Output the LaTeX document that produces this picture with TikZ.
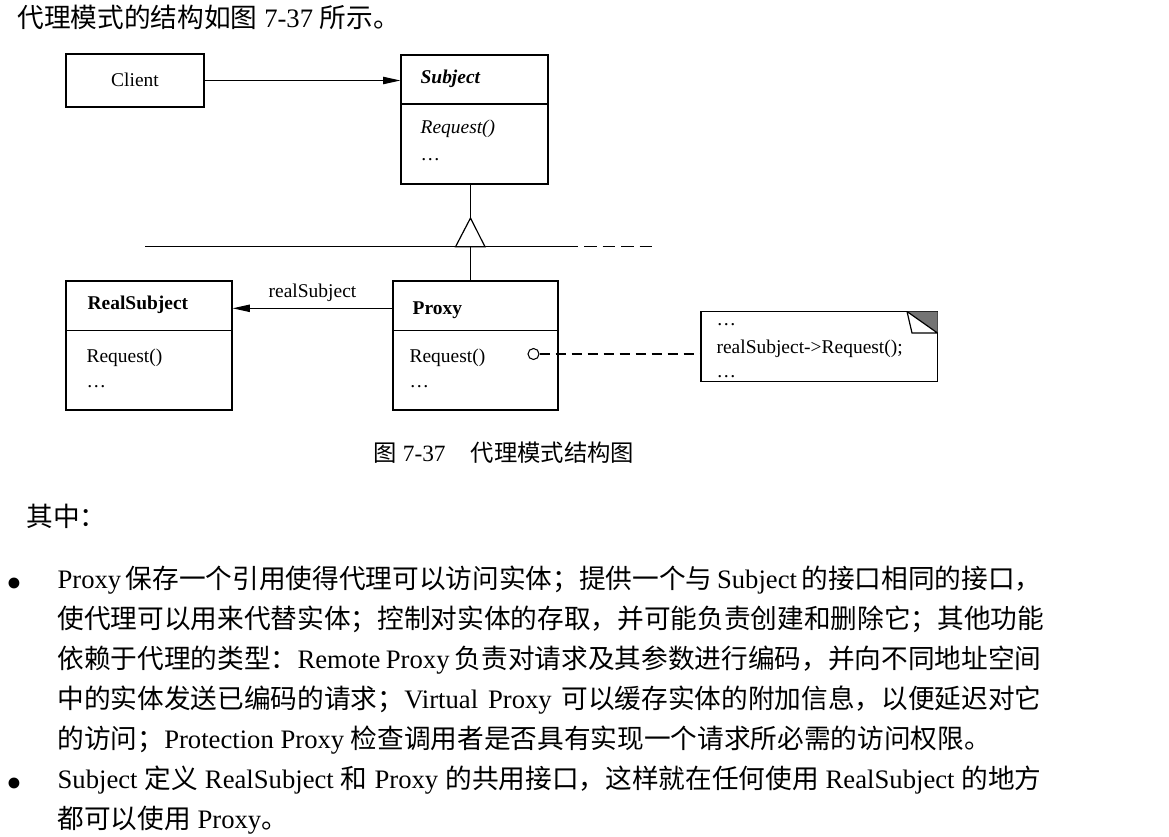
\documentclass[tikz,border=0pt]{standalone}
\usepackage{fontspec}
\setmainfont{Liberation Serif}
\newfontfamily\cjk{Noto Sans CJK SC}
\usetikzlibrary{arrows.meta,fit}

\begin{document}
\begin{tikzpicture}[x=0.75pt,y=-0.75pt,line width=0.9pt,
  classbox/.style={draw,inner sep=0pt},
  uml/.style={anchor=base west,inner sep=0pt,font=\fontsize{14.6pt}{17pt}\selectfont},
  body/.style={anchor=base west,inner sep=0pt,font=\fontsize{20pt}{24pt}\selectfont},
  tip/.style={-{Triangle[length=13pt,width=5.5pt]}}]
  \useasboundingbox (0,0) rectangle (1169,836);

  \node[body] (intro) at (17,27.5) {{\cjk 代理模式的结构如图} 7-37 {\cjk 所示。}};

  \node[classbox,fit={(66,54) (204,107)}] (client) {};
  \node[classbox,fit={(401,55) (548,184)}] (subject) {};
  \node[classbox,fit={(66,281) (232,410)}] (realsub) {};
  \node[classbox,fit={(393,281) (558,410)}] (proxy) {};
  \node[draw,inner sep=0pt,fit={(701,311.5) (937.5,381.5)}] (note) {};
  \draw (subject.west |- 0,104) -- (subject.east |- 0,104);
  \draw (realsub.west |- 0,330.5) -- (realsub.east |- 0,330.5);
  \draw (proxy.west |- 0,330.5) -- (proxy.east |- 0,330.5);
  \fill[black!55] (907,311.5) -- (937.5,311.5) -- (937.5,333) -- cycle;
  \draw (907,311.5) -- (912,333) -- (937.5,333) (907,311.5) -- (937.5,333);

  \node[uml,anchor=base] (clientname) at (135,86) {Client};
  \node[uml,font=\fontsize{14.6pt}{17pt}\selectfont\bfseries\itshape] (subjname) at (420,83) {Subject};
  \node[uml,font=\fontsize{14.6pt}{17pt}\selectfont\itshape] (subjop) at (420,133) {Request()};
  \node[uml] (subjdots) at (420,160) {…};
  \node[uml,font=\fontsize{14.6pt}{17pt}\selectfont\bfseries] (realname) at (87,309) {RealSubject};
  \node[uml] (realop) at (86,362) {Request()};
  \node[uml] (realdots) at (86,387) {…};
  \node[uml,font=\fontsize{14.6pt}{17pt}\selectfont\bfseries] (proxyname) at (412,314) {Proxy};
  \node[uml] (proxyop) at (409,362) {Request()};
  \node[uml] (proxydots) at (409,387) {…};
  \node[uml] (notedots1) at (716,325) {…};
  \node[uml] (notecall) at (716,353) {realSubject->Request();};
  \node[uml] (notedots2) at (716,377.5) {…};

  \coordinate (apex) at (470.5,218);
  \draw[tip] (client.east) -- (client.east -| subject.west);
  \draw[tip] (proxy.west |- 0,308.3) -- (realsub.east |- 0,308.3)
    node[uml,anchor=base,midway,yshift=8pt] (reflabel) {realSubject};
  \draw (145,246.8) -- (578,246.8);
  \draw[dash pattern=on 9.4pt off 4.5pt] (584,246.8) -- (652,246.8);
  \draw (apex |- subject.south) -- (apex);
  \draw (apex |- 0,246.8) -- (apex |- proxy.north);
  \draw[fill=white] (apex) -- (455.5,246.8) -- (485,246.8) -- cycle;
  \node[circle,draw,line width=0.8pt,minimum size=8.25pt,inner sep=0pt] (knob) at (533.5,354) {};
  \draw[dash pattern=on 8pt off 4pt] (knob.east) -- (knob.east -| note.west);

  \node[anchor=base,inner sep=0pt,font=\fontsize{17.5pt}{21pt}\selectfont] (caption) at (504,461.5)
    {{\cjk 图} 7-37\hspace{19pt}{\cjk 代理模式结构图}};

  \node[body] (among) at (26,526.5) {\cjk 其中：};

  \node[body,anchor=base,font=\fontsize{34pt}{36pt}\selectfont] (bullet1) at (14,598) {•};
  \node[body] (line1) at (57,588) {\makebox[738pt][s]{Proxy {\cjk 保存一个引用使得代理可以访问实体；提供一个与} Subject {\cjk 的接口相同的接口，}}};
  \node[body] (line2) at (57,628) {\cjk 使代理可以用来代替实体；控制对实体的存取，并可能负责创建和删除它；其他功能};
  \node[body] (line3) at (57,668) {\makebox[738pt][s]{{\cjk 依赖于代理的类型：}Remote Proxy {\cjk 负责对请求及其参数进行编码，并向不同地址空间}}};
  \node[body] (line4) at (57,708) {\makebox[738pt][s]{{\cjk 中的实体发送已编码的请求；}Virtual Proxy {\cjk 可以缓存实体的附加信息，以便延迟对它}}};
  \node[body] (line5) at (57,748) {{\cjk 的访问；}Protection Proxy {\cjk 检查调用者是否具有实现一个请求所必需的访问权限。}};
  \node[body,anchor=base,font=\fontsize{34pt}{36pt}\selectfont] (bullet2) at (14,798) {•};
  \node[body] (line6) at (57,788) {\makebox[738pt][s]{Subject {\cjk 定义} RealSubject {\cjk 和} Proxy {\cjk 的共用接口，这样就在任何使用} RealSubject {\cjk 的地方}}};
  \node[body] (line7) at (57,828) {{\cjk 都可以使用} Proxy{\cjk 。}};
\end{tikzpicture}
\end{document}
